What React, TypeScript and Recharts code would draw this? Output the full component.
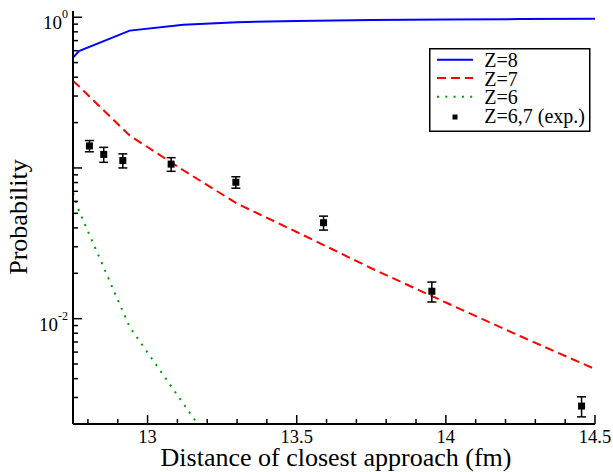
import React from 'react';
import { ComposedChart, Line, Scatter, ErrorBar, XAxis, YAxis, Legend } from 'recharts';

// theory curves (piecewise linear)
const distTheory = [12.75, 12.77, 12.94, 13.12, 13.3, 13.5, 13.75, 14.0, 14.25, 14.5];
const probZ8 = [0.539, 0.597, 0.815, 0.89, 0.927, 0.945, 0.957, 0.966, 0.972, 0.976];
const probZ7 = [0.378, 0.348, 0.164, 0.0965, 0.058, 0.0376, 0.0216, 0.0128, 0.00764, 0.00463];
const distZ6 = [12.75, 12.77, 12.94, 13.12, 13.3];
const probZ6 = [0.068, 0.052, 0.0088, 0.00273, 0.00085];

// measured points
const expDist = [12.805, 12.853, 12.917, 13.079, 13.296, 13.59, 13.953, 14.455];
const expProb = [0.14, 0.123, 0.112, 0.106, 0.0804, 0.0433, 0.0152, 0.00263];
const expErr = [0.012, 0.014, 0.012, 0.011, 0.007, 0.0046, 0.0023, 0.0004];

const xTicks = [12.8, 12.9, 13, 13.1, 13.2, 13.3, 13.4, 13.5, 13.6, 13.7, 13.8, 13.9, 14, 14.1, 14.2, 14.3, 14.4, 14.5];
const yTicks = [
  0.003, 0.004, 0.005, 0.006, 0.007, 0.008, 0.009,
  0.01, 0.02, 0.03, 0.04, 0.05, 0.06, 0.07, 0.08, 0.09,
  0.1, 0.2, 0.3, 0.4, 0.5, 0.6, 0.7, 0.8, 0.9, 1,
];
const yLabels: Record<string, string> = { '1': '0', '0.01': '-2' };

const FONT = '"Liberation Serif", "Times New Roman", serif';
const PLOT_LEFT = 73;
const PLOT_BOTTOM = 424;

const z8Data = distTheory.map((x, i) => ({ x, y: probZ8[i] }));
const z7Data = distTheory.map((x, i) => ({ x, y: probZ7[i] }));
const z6Data = distZ6.map((x, i) => ({ x, y: probZ6[i] }));
const expData = expDist.map((x, i) => ({ x, y: expProb[i], err: expErr[i] }));

const isMajorY = (v: number) => [0.01, 0.1, 1].some(m => Math.abs(m - v) < 1e-9);
const isMajorX = (v: number) => Math.abs(v * 2 - Math.round(v * 2)) < 1e-6;

const YTick = (props: any) => {
  const { y, payload } = props;
  const v = payload.value;
  const exp = yLabels[String(v)];
  return (
    <g>
      <line x1={PLOT_LEFT} x2={PLOT_LEFT + (isMajorY(v) ? 9 : 5)} y1={y} y2={y} stroke="#000" strokeWidth={1.5} />
      {exp && (
        <text x={68} y={y + 12} textAnchor="end" fontFamily={FONT} fontSize={19} fill="#000">
          10<tspan dy={-11} fontSize={12}>{exp}</tspan>
        </text>
      )}
    </g>
  );
};

const XTick = (props: any) => {
  const { x, payload } = props;
  const v = payload.value;
  const major = isMajorX(v);
  return (
    <g>
      <line x1={x} x2={x} y1={PLOT_BOTTOM} y2={PLOT_BOTTOM - (major ? 9 : 5)} stroke="#000" strokeWidth={1.5} />
      {major && (
        <text x={x} y={443} textAnchor="middle" fontFamily={FONT} fontSize={18.5} fill="#000">
          {String(v)}
        </text>
      )}
    </g>
  );
};

const LegendBox = () => {
  const rows = [
    { label: 'Z=8', y: 11.7, kind: 'solid' },
    { label: 'Z=7', y: 30, kind: 'dash' },
    { label: 'Z=6', y: 48.7, kind: 'dot' },
    { label: 'Z=6,7 (exp.)', y: 67.5, kind: 'square' },
  ];
  return (
    <svg width={162} height={84} style={{ display: 'block' }}>
      <rect x={0.75} y={0.75} width={160} height={82.5} fill="#fff" stroke="#000" strokeWidth={1.5} />
      {rows.map(r => (
        <g key={r.label}>
          {r.kind === 'solid' && <line x1={8} x2={44} y1={r.y} y2={r.y} stroke="#0000ff" strokeWidth={2} />}
          {r.kind === 'dash' && <line x1={8} x2={44} y1={r.y} y2={r.y} stroke="#ff0000" strokeWidth={2} strokeDasharray="9 5" />}
          {r.kind === 'dot' && <line x1={8} x2={44} y1={r.y} y2={r.y} stroke="#009900" strokeWidth={2} strokeDasharray="2 6.3" />}
          {r.kind === 'square' && <rect x={23.5} y={r.y - 1} width={5} height={5} fill="#000" />}
          <text x={55.3} y={r.y + 7.5} fontFamily={FONT} fontSize={20} fill="#000">{r.label}</text>
        </g>
      ))}
    </svg>
  );
};

const Square = (props: any) => {
  const { cx, cy } = props;
  if (cx == null || cy == null) return null;
  return <rect x={cx - 3.5} y={cy - 3.5} width={7} height={7} fill="#000" />;
};

export default function App() {
  return (
    <div style={{ position: 'absolute', left: 0, top: 0, width: 613, height: 472, background: '#fff' }}>
      <ComposedChart width={613} height={472} margin={{ top: 11, right: 18, bottom: 0, left: 0 }}>
        <XAxis
          type="number"
          dataKey="x"
          domain={[12.75, 14.5]}
          allowDataOverflow
          ticks={xTicks}
          interval={0}
          tick={<XTick />}
          tickLine={false}
          axisLine={{ stroke: '#000', strokeWidth: 2 }}
          height={48}
          label={{
            content: () => (
              <text x={336} y={466} textAnchor="middle" fontFamily={FONT} fontSize={26} fill="#000">
                Distance of closest approach (fm)
              </text>
            ),
          }}
        />
        <XAxis
          xAxisId="top"
          orientation="top"
          type="number"
          domain={[12.75, 14.5]}
          tick={false}
          tickLine={false}
          axisLine={{ stroke: '#000', strokeWidth: 2 }}
          height={0}
        />
        <YAxis
          type="number"
          dataKey="y"
          scale="log"
          domain={[0.002, 1.1]}
          allowDataOverflow
          ticks={yTicks}
          interval={0}
          tick={<YTick />}
          tickLine={false}
          axisLine={{ stroke: '#000', strokeWidth: 2 }}
          width={73}
          label={{
            content: () => (
              <text
                x={27}
                y={217}
                transform="rotate(-90 27 217)"
                textAnchor="middle"
                fontFamily={FONT}
                fontSize={26}
                fill="#000"
              >
                Probability
              </text>
            ),
          }}
        />
        <YAxis
          yAxisId="right"
          orientation="right"
          type="number"
          domain={[0, 1]}
          tick={false}
          tickLine={false}
          axisLine={{ stroke: '#000', strokeWidth: 2 }}
          width={0}
        />
        <Legend
          layout="horizontal"
          verticalAlign="middle"
          align="center"
          wrapperStyle={{ position: 'absolute', left: 429, top: 48, width: 162, height: 84 }}
          content={() => <LegendBox />}
        />
        <Line data={z8Data} dataKey="y" type="linear" stroke="#0000ff" strokeWidth={2} dot={false} isAnimationActive={false} />
        <Line data={z7Data} dataKey="y" type="linear" stroke="#ff0000" strokeWidth={2} strokeDasharray="9 5" dot={false} isAnimationActive={false} />
        <Line data={z6Data} dataKey="y" type="linear" stroke="#009900" strokeWidth={2} strokeDasharray="2 6.3" dot={false} isAnimationActive={false} />
        <Scatter data={expData} dataKey="y" shape={<Square />} isAnimationActive={false}>
          <ErrorBar dataKey="err" direction="y" width={4.5} stroke="#000" strokeWidth={1.5} isAnimationActive={false} />
        </Scatter>
      </ComposedChart>
    </div>
  );
}
